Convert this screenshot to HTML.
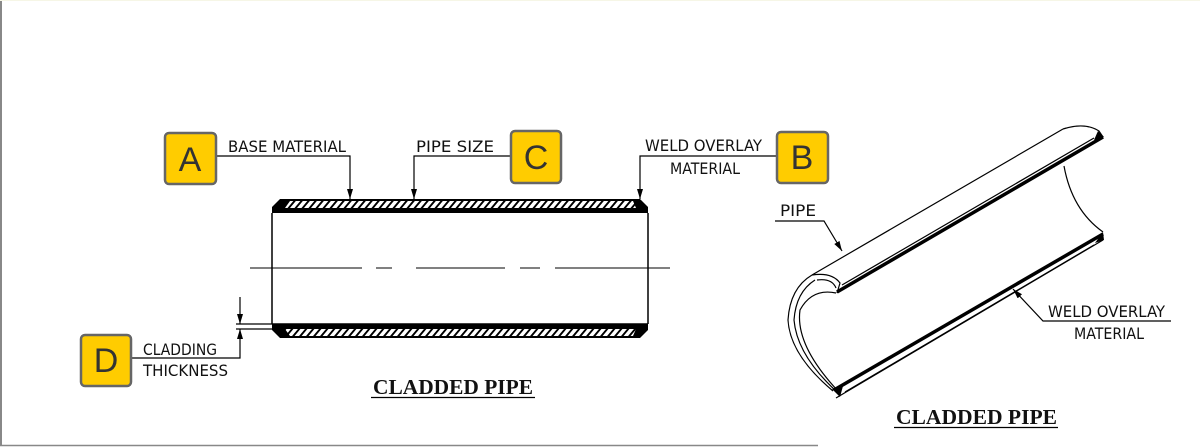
<!DOCTYPE html>
<html><head><meta charset="utf-8"><style>
html,body{margin:0;padding:0;background:#fff;}
svg{display:block}
.t{font-family:"DejaVu Sans Condensed","Liberation Sans",sans-serif;font-size:16px;fill:#111}
.s{font-family:"Liberation Serif",serif;font-size:21px;fill:#111;font-weight:bold}
.L{font-family:"Liberation Sans",sans-serif;font-size:34px;fill:#333;text-anchor:middle}
</style></head><body>
<svg width="1200" height="447" viewBox="0 0 1200 447" xmlns="http://www.w3.org/2000/svg">
<defs>
<pattern id="h" width="7" height="8" patternUnits="userSpaceOnUse" patternTransform="skewX(-40)">
<rect width="7" height="8" fill="#fff"/><rect width="2.5" height="8" fill="#000"/>
</pattern>
<marker id="a" viewBox="0 0 10 10" refX="10" refY="5" markerWidth="10" markerHeight="10" orient="auto" markerUnits="userSpaceOnUse"><path d="M0,2 L10,5 L0,8 z" fill="#000"/></marker>
</defs>
<line x1="1" y1="0" x2="1" y2="446" stroke="#888" stroke-width="2"/>
<line x1="0" y1="445.5" x2="818" y2="445.5" stroke="#888" stroke-width="1.5"/>
<line x1="0" y1="0.5" x2="1200" y2="0.5" stroke="#f6f6e6" stroke-width="1"/>

<!-- left pipe -->
<line x1="272" y1="213" x2="272" y2="324" stroke="#000" stroke-width="1.5"/>
<line x1="648" y1="213" x2="648" y2="324" stroke="#000" stroke-width="1.5"/>
<polygon points="272,213 272,207 280,199 640,199 648,207 648,213" fill="#000"/>
<polygon points="285,208 290,201 633,201 636,208" fill="url(#h)"/>
<polygon points="272,324 272,330 280,338 640,338 648,330 648,324" fill="#000"/>
<polygon points="285,329 290,336 633,336 636,329" fill="url(#h)"/>
<line x1="272" y1="324" x2="648" y2="324" stroke="#000" stroke-width="1.5"/>
<g stroke="#000" stroke-width="1">
<line x1="250" y1="268" x2="362" y2="268"/><line x1="376" y1="268" x2="392" y2="268"/>
<line x1="416" y1="268" x2="505" y2="268"/><line x1="520" y1="268" x2="540" y2="268"/>
<line x1="555" y1="268" x2="670" y2="268"/>
</g>
<!-- leaders -->
<g stroke="#000" stroke-width="1.2" fill="none">
<polyline points="216,156 350,156 350,199" marker-end="url(#a)"/>
<polyline points="510,156 414,156 414,199" marker-end="url(#a)"/>
<polyline points="776,156 640,156 640,199" marker-end="url(#a)"/>
<line x1="236" y1="324" x2="272" y2="324"/>
<line x1="236" y1="329" x2="272" y2="329"/>
<line x1="240" y1="297" x2="240" y2="324" marker-end="url(#a)"/>
<polyline points="131,358 240,358 240,329" marker-end="url(#a)"/>
</g>
<text class="t" x="228" y="152" textLength="118" lengthAdjust="spacingAndGlyphs">BASE  MATERIAL</text>
<text class="t" x="416" y="152" textLength="78" lengthAdjust="spacingAndGlyphs">PIPE  SIZE</text>
<text class="t" x="645" y="151" textLength="117" lengthAdjust="spacingAndGlyphs">WELD  OVERLAY</text>
<text class="t" x="670" y="174" textLength="70" lengthAdjust="spacingAndGlyphs">MATERIAL</text>
<text class="t" x="143" y="355" textLength="74" lengthAdjust="spacingAndGlyphs">CLADDING</text>
<text class="t" x="143" y="376" textLength="85" lengthAdjust="spacingAndGlyphs">THICKNESS</text>
<text class="s" x="373" y="394" textLength="160" lengthAdjust="spacingAndGlyphs">CLADDED  PIPE</text>
<line x1="371" y1="397.5" x2="535" y2="397.5" stroke="#000" stroke-width="1.2"/>

<!-- boxes -->
<g fill="#ffcc00" stroke="#666" stroke-width="2.5">
<rect x="165" y="133" width="51" height="51" rx="4"/>
<rect x="511" y="131" width="50" height="52" rx="4"/>
<rect x="777" y="132" width="51" height="51" rx="4"/>
<rect x="81" y="335" width="50" height="51" rx="4"/>
</g>
<text class="L" x="190" y="171">A</text>
<text class="L" x="536" y="169">C</text>
<text class="L" x="802" y="169">B</text>
<text class="L" x="106" y="372">D</text>

<!-- right pipe -->
<g stroke="#000" fill="none" stroke-width="1.2">
<line x1="812" y1="275" x2="1063" y2="129"/>
<path d="M1063,129 Q1085,122 1099,131 L1103,137"/>
<line x1="842" y1="285" x2="1094" y2="138"/>
<path d="M812,275 Q832,272 840,283 L837,293"/>
<path d="M817,280 Q832,278 836,288"/>
<path d="M812,275 Q790,288 788,320 Q790,355 833,391"/>
<path d="M815,280 Q796,292 794,320 Q797,355 836,391"/>
<path d="M836,293 Q812,288 800,310 Q795,345 838,391"/>
<path d="M1064,166 Q1072,210 1103,232"/>
<line x1="845" y1="392" x2="1094" y2="245"/>
<line x1="836" y1="398" x2="1103" y2="240"/>
</g>
<line x1="837" y1="292" x2="1103" y2="137" stroke="#000" stroke-width="3.5"/>
<line x1="834" y1="390" x2="1103" y2="234" stroke="#000" stroke-width="3.5"/>
<polygon points="1098,131 1104,137 1094,140" fill="#000"/>
<polygon points="1103,232 1104,240 1095,243" fill="#000"/>
<polygon points="832,389 843,386 840,397" fill="#000"/>
<g stroke="#000" stroke-width="1.2" fill="none">
<polyline points="775,221 824,221 842,251" marker-end="url(#a)"/>
<polyline points="1171,321 1043,321 1013,289" marker-end="url(#a)"/>
</g>
<text class="t" x="780" y="216" textLength="36" lengthAdjust="spacingAndGlyphs">PIPE</text>
<text class="t" x="1048" y="317" textLength="117" lengthAdjust="spacingAndGlyphs">WELD  OVERLAY</text>
<text class="t" x="1074" y="339" textLength="70" lengthAdjust="spacingAndGlyphs">MATERIAL</text>
<text class="s" x="896" y="424" textLength="161" lengthAdjust="spacingAndGlyphs">CLADDED  PIPE</text>
<line x1="894" y1="427.5" x2="1058" y2="427.5" stroke="#000" stroke-width="1.2"/>
</svg>
</body></html>
